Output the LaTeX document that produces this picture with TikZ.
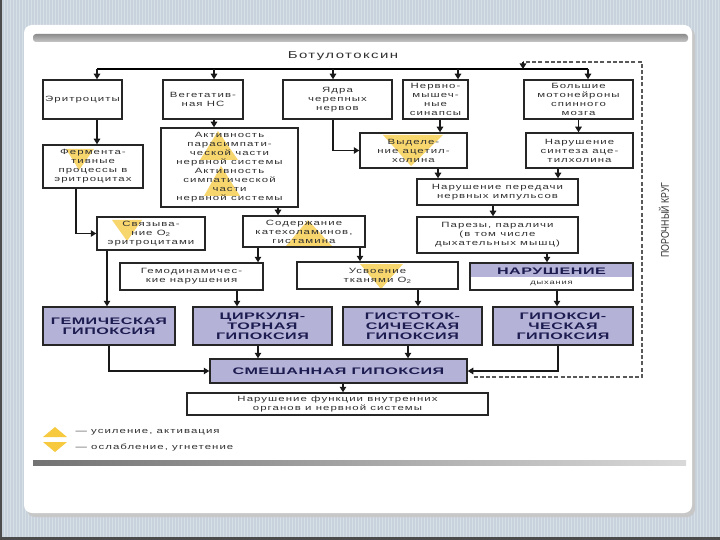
\documentclass[tikz,border=0pt]{standalone}
\usepackage{fontspec}
\setmainfont{Liberation Sans}
\newfontfamily\boxfont[FakeStretch=1.5,LetterSpace=14]{Liberation Sans}
\newfontfamily\hypfont[FakeStretch=1.7,LetterSpace=5]{Liberation Sans}
\newfontfamily\narrowfont[FakeStretch=0.8]{Liberation Sans}
\usetikzlibrary{arrows.meta}
\definecolor{bgblue}{HTML}{C7D2DC}
\definecolor{lavender}{HTML}{B5B2D8}
\definecolor{hyptext}{HTML}{1C1C50}
\definecolor{boxtext}{HTML}{303030}
\definecolor{markyellow}{HTML}{F6C93E}

\begin{document}
\begin{tikzpicture}[x=1pt,y=-1pt,
    box/.style={draw=black!85,line width=1.5pt,align=center,inner sep=1pt,
      font=\boxfont\fontsize{7.6}{9}\selectfont,text=boxtext},
    hyp/.style={box,fill=lavender,text=hyptext,
      font=\hypfont\bfseries\fontsize{9.5}{10}\selectfont},
    arr/.style={line width=1.2pt,draw=black!90,-{Triangle[width=6.5pt,length=5.5pt]}},
    loopline/.style={line width=1.6pt,draw=black!65,dash pattern=on 4pt off 2.2pt},
    yelmark/.style={fill=markyellow,opacity=.75},
]
\useasboundingbox (0,0) rectangle (720,540);
% background and panel
\fill[bgblue] (0,0) rectangle (720,540);
\foreach \x in {1,4,...,718}
  \draw[white,opacity=.3,line width=.8pt] (\x,0) -- (\x,540);
\fill[black!70] (0,0) rectangle (2,540);
\fill[black!70] (0,537) rectangle (720,540);
\fill[black!22,rounded corners=8pt] (27,28) rectangle (695,517);
\fill[white,rounded corners=8pt] (24,25) rectangle (692,513);
\shade[top color=black!45,bottom color=black!22,rounded corners=3pt] (33,34) rectangle (688,42);
\shade[left color=black!55,right color=black!15] (33,460) rectangle (686,465);

% yellow marks
\fill[yelmark] (66,149) -- (94,149) -- (79,170) -- cycle;
\fill[yelmark] (218,131) -- (238,160) -- (200,160) -- cycle;
\fill[yelmark] (221,166) -- (240,196) -- (204,196) -- cycle;
\fill[yelmark] (383,135) -- (443,135) -- (411,166) -- cycle;
\fill[yelmark] (112,220) -- (142,220) -- (127,241) -- cycle;
\fill[yelmark] (308,220) -- (332,246) -- (286,246) -- cycle;
\fill[yelmark] (360,264) -- (403,264) -- (381,289) -- cycle;

% title and bus
\node[font=\boxfont\fontsize{10}{12}\selectfont,text=boxtext] (toxin) at (343,56) {Ботулотоксин};
\coordinate (bus) at (97,69);
\coordinate (busend) at (588,69);
\draw[line width=1.2pt] (bus) -- (busend);

% first row
\node[box,minimum width=79pt,minimum height=39pt] (erit) at (82.5,99.5) {Эритроциты};
\node[box,minimum width=80pt,minimum height=39pt] (veg) at (203,99.5) {Вегетатив-\\ная НС};
\node[box,minimum width=109pt,minimum height=39pt] (yadra) at (337.5,99.5) {Ядра\\черепных\\нервов};
\node[box,minimum width=65pt,minimum height=39pt] (sinaps) at (435.5,99.5) {Нервно-\\мышеч-\\ные\\синапсы};
\node[box,minimum width=109pt,minimum height=39pt] (moto) at (578.5,99.5) {Большие\\мотонейроны\\спинного\\мозга};

% second row
\node[box,minimum width=100pt,minimum height=43pt] (ferm) at (93,166.5) {Фермента-\\тивные\\процессы в\\эритроцитах};
\node[box,minimum width=137pt,minimum height=79pt] (aktiv) at (229.5,167.5) {Активность\\парасимпати-\\ческой части\\нервной системы\\Активность\\симпатической\\части\\нервной системы};
\node[box,minimum width=107pt,minimum height=35pt] (vydel) at (413.5,150.5) {Выделе-\\ние ацетил-\\холина};
\node[box,minimum width=107pt,minimum height=35pt] (sintez) at (579.5,150.5) {Нарушение\\синтеза аце-\\тилхолина};
\node[box,minimum width=161pt,minimum height=26pt] (peredacha) at (497.5,192) {Нарушение передачи\\нервных импульсов};
\node[box,minimum width=161pt,minimum height=36pt] (paralich) at (497.5,235) {Парезы, параличи\\(в том числе\\дыхательных мышц)};

% third and fourth rows
\node[box,minimum width=108pt,minimum height=33pt] (svyaz) at (151,233.5) {Связыва-\\ние O\textsubscript{2}\\эритроцитами};
\node[box,minimum width=122pt,minimum height=31pt] (soderzh) at (304,231.5) {Содержание\\катехоламинов,\\гистамина};
\node[box,minimum width=143pt,minimum height=27pt] (gemodin) at (191.5,276.5) {Гемодинамичес-\\кие нарушения};
\node[box,minimum width=161pt,minimum height=27pt] (usvoen) at (377.5,275.5) {Усвоение\\тканями O\textsubscript{2}};
\node[box,minimum width=163pt,minimum height=27pt,
  path picture={\fill[lavender] (path picture bounding box.north west) rectangle (path picture bounding box.east);}]
  (dyhanie) at (551.5,276.5) {{\hypfont\bfseries\fontsize{9.5}{10}\selectfont\color{hyptext}НАРУШЕНИЕ}\\[1pt]{\fontsize{6.2}{7}\selectfont дыхания}};

% hypoxia
\node[hyp,minimum width=132pt,minimum height=38pt] (gem) at (109,326) {ГЕМИЧЕСКАЯ\\ГИПОКСИЯ};
\node[hyp,minimum width=139pt,minimum height=38pt] (cirk) at (262.5,326) {ЦИРКУЛЯ-\\ТОРНАЯ\\ГИПОКСИЯ};
\node[hyp,minimum width=139pt,minimum height=38pt] (gisto) at (412.5,326) {ГИСТОТОК-\\СИЧЕСКАЯ\\ГИПОКСИЯ};
\node[hyp,minimum width=140pt,minimum height=38pt] (gipoks) at (563,326) {ГИПОКСИ-\\ЧЕСКАЯ\\ГИПОКСИЯ};
\node[hyp,minimum width=257pt,minimum height=24pt] (smesh) at (338.5,371) {СМЕШАННАЯ ГИПОКСИЯ};
\node[box,minimum width=301pt,minimum height=22pt] (organy) at (337.5,404) {Нарушение функции внутренних\\органов и нервной системы};

% connectors
\foreach \n/\s in {erit/14.5,veg/11,yadra/-4.5,sinaps/22.5,moto/9.5}
  \draw[arr] ([xshift=\s pt]\n.north |- bus) -- ([xshift=\s pt]\n.north);
\draw[arr] ([xshift=14.5pt]erit.south) -- ([xshift=14.5pt]erit.south |- ferm.north);
\draw[arr] ([xshift=11pt]veg.south) -- ([xshift=11pt]veg.south |- aktiv.north);
\draw[arr] ([xshift=-4.5pt]yadra.south) |- (vydel.west);
\draw[arr] ([xshift=4.5pt]sinaps.south) -- ([xshift=4.5pt]sinaps.south |- vydel.north);
\draw[arr] (moto.south) -- (moto.south |- sintez.north);
\draw[arr] ([xshift=24.5pt]vydel.south) -- ([xshift=24.5pt]vydel.south |- peredacha.north);
\draw[arr] ([xshift=-21.5pt]sintez.south) -- ([xshift=-21.5pt]sintez.south |- peredacha.north);
\draw[arr] ([xshift=-4.5pt]peredacha.south) -- ([xshift=-4.5pt]peredacha.south |- paralich.north);
\draw[arr] ([xshift=-17pt]ferm.south) |- (svyaz.west);
\draw[arr] ([xshift=48.5pt]aktiv.south) -- ([xshift=48.5pt]aktiv.south |- soderzh.north);
\draw[arr] ([xshift=-46pt]soderzh.south) -- ([xshift=-46pt]soderzh.south |- gemodin.north);
\draw[arr] ([xshift=56pt]soderzh.south) -- ([xshift=56pt]soderzh.south |- usvoen.north);
\draw[arr] ([xshift=49.5pt]paralich.south) -- ([xshift=49.5pt]paralich.south |- dyhanie.north);
\draw[arr] ([xshift=-44pt]svyaz.south) -- ([xshift=-44pt]svyaz.south |- gem.north);
\draw[arr] ([xshift=45.5pt]gemodin.south) -- ([xshift=45.5pt]gemodin.south |- cirk.north);
\draw[arr] ([xshift=40.5pt]usvoen.south) -- ([xshift=40.5pt]usvoen.south |- gisto.north);
\draw[arr] ([xshift=5.5pt]dyhanie.south) -- ([xshift=5.5pt]dyhanie.south |- gipoks.north);
\draw[arr] (gem.south) |- (smesh.west);
\draw[arr] ([xshift=-4.5pt]cirk.south) -- ([xshift=-4.5pt]cirk.south |- smesh.north);
\draw[arr] ([xshift=-4.5pt]gisto.south) -- ([xshift=-4.5pt]gisto.south |- smesh.north);
\draw[arr] ([xshift=-5pt]gipoks.south) |- (smesh.east);
\draw[arr] ([xshift=4.5pt]smesh.south) -- ([xshift=4.5pt]smesh.south |- organy.north);

% vicious circle
\coordinate (loopturn) at (642,62);
\coordinate (loopin) at (523,69);
\draw[loopline] ([xshift=6pt,yshift=-6pt]smesh.east) -| (loopturn) -- (loopturn -| loopin);
\draw[arr] (loopturn -| loopin) -- (loopin);
\node[rotate=90,font=\narrowfont\fontsize{11}{12}\selectfont,text=black!80] (krug) at (664,220) {ПОРОЧНЫЙ КРУГ};

% legend
\fill[markyellow] (43,437) -- (67,437) -- (55,427) -- cycle;
\fill[markyellow] (43,442) -- (67,442) -- (55,452) -- cycle;
\node[anchor=west,font=\boxfont\fontsize{7.6}{9}\selectfont,text=boxtext] (lgup) at (72,432) {— усиление, активация};
\node[anchor=west,font=\boxfont\fontsize{7.6}{9}\selectfont,text=boxtext] (lgdown) at (72,447) {— ослабление, угнетение};
\end{tikzpicture}
\end{document}
